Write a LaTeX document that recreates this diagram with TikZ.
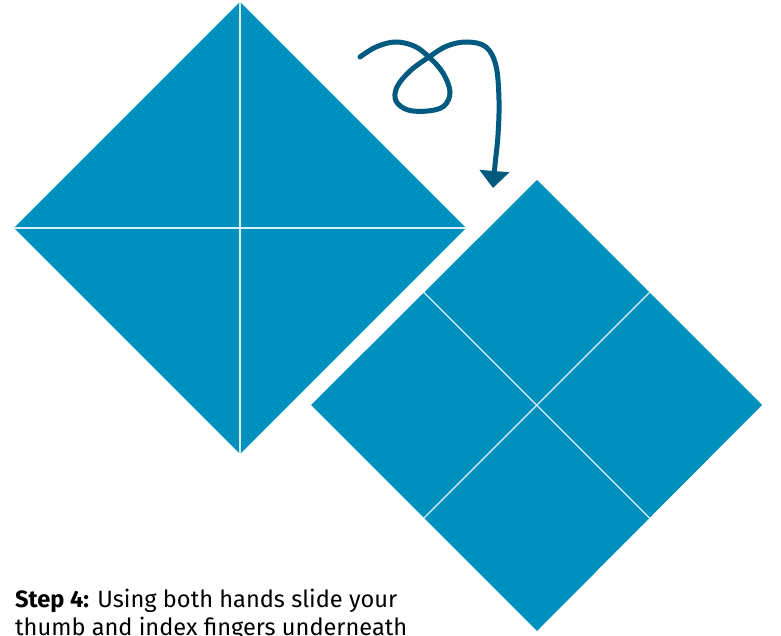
\documentclass[tikz,border=0pt]{standalone}
\usepackage{fontspec}
\setmainfont{Fira Sans}
\usetikzlibrary{arrows.meta,calc}
\definecolor{paper}{HTML}{0090BD}
\definecolor{arrowblue}{HTML}{005A80}
\begin{document}
\begin{tikzpicture}[x=1pt,y=-1pt,
  sheet/.style={fill=paper,draw=none},
  crease/.style={draw=white!85!paper,line width=1.3pt},
  movearrow/.style={draw=arrowblue,line width=5pt,line cap=round,
    -{Triangle[width=29pt,length=17pt]}},
  caption/.style={anchor=base west,inner sep=0pt,font=\fontsize{23.6}{28}\selectfont}]
\useasboundingbox (0,0) rectangle (781,636);
\clip (0,0) rectangle (781,636);
% left diamond (folded sheet)
\coordinate (LT) at (240,2);
\coordinate (LL) at (14,228);
\coordinate (LR) at (466,228);
\coordinate (LB) at (240,454);
\fill[sheet] (LT) -- (LR) -- (LB) -- (LL) -- cycle;
\draw[crease] (LT) -- (LB);
\draw[crease] (LL) -- (LR);
% right square (unfolded)
\coordinate (RT) at (537,180);
\coordinate (RL) at (311,405);
\coordinate (RR) at (762,405);
\coordinate (RB) at (537,631);
\fill[sheet] (RT) -- (RR) -- (RB) -- (RL) -- cycle;
\draw[crease] ($(RT)!0.5!(RL)$) -- ($(RR)!0.5!(RB)$);
\draw[crease] ($(RT)!0.5!(RR)$) -- ($(RL)!0.5!(RB)$);
% looping arrow
\draw[movearrow] plot[smooth,tension=0.6] coordinates{
 (360,57) (376,47) (395,42) (414,46) (429,57) (443,73) (450,92)
 (444,106) (428,111) (408,110) (396,101) (397,87) (410,71) (429,57)
 (447,46) (467,42) (486,47) (496,66) (499,100) (498,135) (495,165) (493,188)};
% caption
\node[caption] (c1) at (15,607) {\textbf{Step 4:} Using both hands slide your};
\node[caption] (c2) at (15,635) {thumb and index fingers underneath};
\end{tikzpicture}
\end{document}
